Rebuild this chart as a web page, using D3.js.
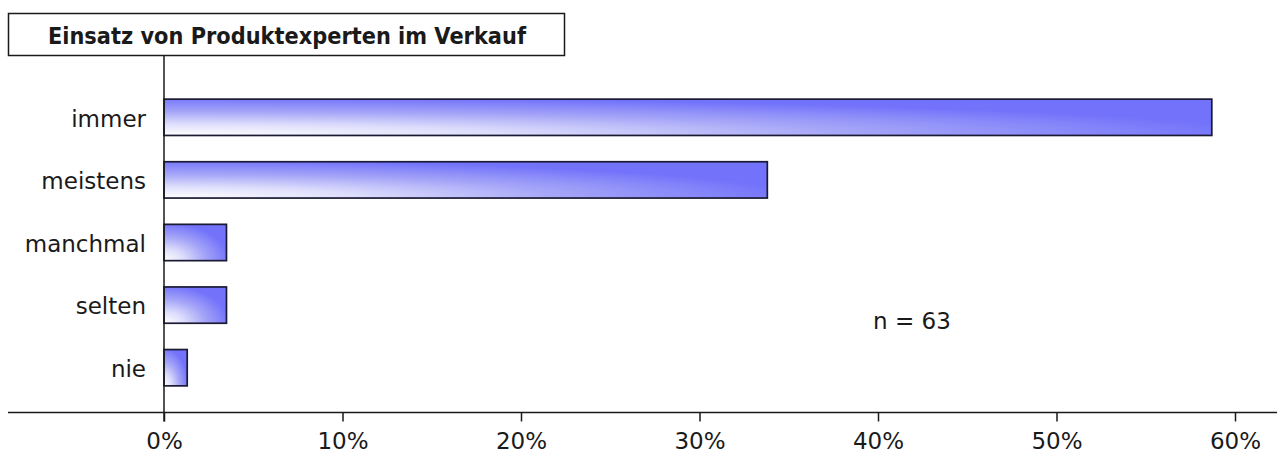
<!DOCTYPE html>
<html>
<head>
<meta charset="utf-8">
<script src="https://cdn.jsdelivr.net/npm/d3@7"></script>
<style>
  html, body { margin: 0; padding: 0; background: #fff; }
  svg { display: block; }
  text { font-family: "DejaVu Sans", sans-serif; fill: #1a1a1a; }
</style>
</head>
<body>
<svg id="chart" width="1277" height="457"></svg>
<script>
const title = "Einsatz von Produktexperten im Verkauf";
const categories = ["immer", "meistens", "manchmal", "selten", "nie"];
const values = [0.587, 0.338, 0.035, 0.035, 0.013];
const xTicks = [0, 0.1, 0.2, 0.3, 0.4, 0.5, 0.6];
const note = "n = 63";

const svg = d3.select("#chart");
const W = 1277, H = 457;

const x = d3.scaleLinear().domain([0, 0.6]).range([164, 1235]);
const y = d3.scaleBand().domain(categories).range([86, 399]).paddingInner(0.42).paddingOuter(0.21);
const axisY = 412.5;

// gradient
const defs = svg.append("defs");
const grad = defs.append("radialGradient")
  .attr("id", "barGrad")
  .attr("gradientUnits", "objectBoundingBox")
  .attr("cx", 0).attr("cy", 1).attr("r", 1.05).attr("fx", 0).attr("fy", 1);
grad.append("stop").attr("offset", "0").attr("stop-color", "#ffffff");
grad.append("stop").attr("offset", "0.3").attr("stop-color", "#dedefc");
grad.append("stop").attr("offset", "0.62").attr("stop-color", "#a6a6f8");
grad.append("stop").attr("offset", "1").attr("stop-color", "#7272fb");

// title box
svg.append("rect")
  .attr("x", 8.5).attr("y", 13.5).attr("width", 556).attr("height", 42)
  .attr("fill", "#fff").attr("stroke", "#1a1a1a").attr("stroke-width", 1.5);
svg.append("text")
  .attr("x", 287).attr("y", 43.5)
  .attr("text-anchor", "middle")
  .attr("font-family", "Lato, sans-serif")
  .attr("font-weight", "bold")
  .attr("font-size", 23.5)
  .attr("textLength", 478)
  .attr("lengthAdjust", "spacingAndGlyphs")
  .text(title);

// bars
svg.append("g").selectAll("rect")
  .data(categories)
  .join("rect")
  .attr("x", x(0))
  .attr("y", d => y(d))
  .attr("width", (d, i) => x(values[i]) - x(0))
  .attr("height", y.bandwidth())
  .attr("fill", "url(#barGrad)")
  .attr("stroke", "#1a1a33")
  .attr("stroke-width", 1.7);

// category labels
svg.append("g").selectAll("text")
  .data(categories)
  .join("text")
  .attr("x", 146)
  .attr("y", d => y(d) + y.bandwidth() / 2)
  .attr("dy", "0.4em")
  .attr("text-anchor", "end")
  .attr("font-size", 23)
  .text(d => d);

// x axis
const xAxis = d3.axisBottom(x)
  .tickValues(xTicks)
  .tickSize(9)
  .tickPadding(11)
  .tickFormat(d3.format(".0%"));
const gx = svg.append("g")
  .attr("transform", `translate(0,${axisY})`)
  .call(xAxis);
gx.select(".domain").remove();
gx.selectAll(".tick line").attr("stroke", "#1a1a1a").attr("stroke-width", 1.5);
gx.selectAll(".tick text")
  .attr("font-family", "DejaVu Sans, sans-serif")
  .attr("font-size", 23)
  .attr("fill", "#1a1a1a");
svg.append("line")
  .attr("x1", 8).attr("x2", W)
  .attr("y1", axisY).attr("y2", axisY)
  .attr("stroke", "#1a1a1a").attr("stroke-width", 1.5);

// y axis line
svg.append("line")
  .attr("x1", x(0)).attr("x2", x(0))
  .attr("y1", 56).attr("y2", axisY + 9)
  .attr("stroke", "#1a1a1a").attr("stroke-width", 1.5);

// note
svg.append("text")
  .attr("x", x(0.419)).attr("y", 329)
  .attr("text-anchor", "middle")
  .attr("font-size", 23)
  .text(note);
</script>
</body>
</html>
